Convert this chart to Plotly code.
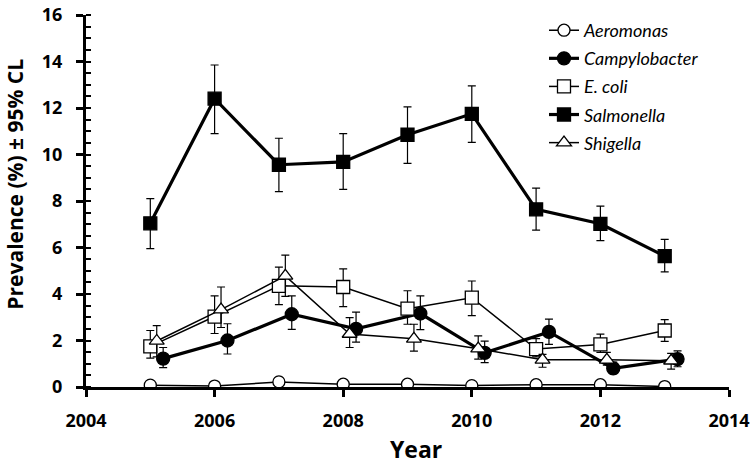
import plotly.graph_objects as go

years = [2005, 2006, 2007, 2008, 2009, 2010, 2011, 2012, 2013]

aeromonas = [0.08, 0.04, 0.22, 0.12, 0.12, 0.06, 0.10, 0.10, 0.02]
aeromonas_hi = [0.14, 0.09, 0.42, 0.20, 0.18, 0.10, 0.16, 0.17, 0.05]
aeromonas_lo = [0.03, 0.00, 0.08, 0.05, 0.06, 0.02, 0.05, 0.04, 0.00]

campylobacter = [1.22, 2.00, 3.13, 2.50, 3.16, 1.47, 2.37, 0.80, 1.20]
campylobacter_hi = [1.70, 2.72, 3.92, 3.22, 3.92, 1.97, 2.92, 1.07, 1.55]
campylobacter_lo = [0.83, 1.42, 2.48, 1.93, 2.47, 1.05, 1.83, 0.57, 0.87]

ecoli = [1.75, 3.03, 4.35, 4.30, 3.37, 3.84, 1.63, 1.83, 2.43]
ecoli_hi = [2.43, 3.92, 5.16, 5.08, 4.14, 4.56, 2.08, 2.27, 2.90]
ecoli_lo = [1.24, 2.30, 3.54, 3.46, 2.70, 3.07, 1.30, 1.49, 1.96]

salmonella = [7.04, 12.40, 9.56, 9.68, 10.85, 11.75, 7.64, 7.02, 5.63]
salmonella_hi = [8.10, 13.85, 10.70, 10.90, 12.05, 12.95, 8.55, 7.78, 6.35]
salmonella_lo = [5.95, 10.90, 8.40, 8.50, 9.62, 10.52, 6.75, 6.30, 4.95]

shigella = [1.98, 3.33, 4.78, 2.28, 2.07, 1.65, 1.17, 1.17, 1.13]
shigella_hi = [2.64, 4.30, 5.67, 2.98, 2.70, 2.20, 1.40, 1.49, 1.45]
shigella_lo = [1.30, 2.56, 3.90, 1.70, 1.54, 1.20, 0.85, 0.94, 0.77]

x_title = "Year"
y_title = "Prevalence (%) ± 95% CL"

series = [
    ("Aeromonas", 0.0, aeromonas, aeromonas_hi, aeromonas_lo, "circle", "white", 1.5, 12),
    ("Campylobacter", 0.2, campylobacter, campylobacter_hi, campylobacter_lo, "circle", "black", 3.2, 13),
    ("E. coli", 0.0, ecoli, ecoli_hi, ecoli_lo, "square", "white", 1.5, 13),
    ("Salmonella", 0.0, salmonella, salmonella_hi, salmonella_lo, "square", "black", 3.2, 13),
    ("Shigella", 0.1, shigella, shigella_hi, shigella_lo, "triangle-up", "white", 1.5, 13),
]

fig = go.Figure()
for name, off, vals, hi, lo, sym, fill, lw, ms in series:
    xs = [y + off for y in years]
    fig.add_trace(go.Scatter(
        x=xs, y=vals, name=name, legendgroup=name, mode="lines+markers",
        line=dict(color="black", width=lw),
        marker=dict(symbol=sym, size=ms, color=fill, line=dict(color="black", width=1.3)),
        error_y=dict(type="data", symmetric=False,
                     array=[h - v for h, v in zip(hi, vals)],
                     arrayminus=[v - l for v, l in zip(vals, lo)],
                     color="black", thickness=1.2, width=4),
    ))

W, H = 753, 465
L, R, T, B = 86, 24, 12, 78
pw, ph = W - L - R, H - T - B

ff = "Open Sans"
fig.update_layout(
    width=W, height=H,
    margin=dict(l=L, r=R, t=T, b=B),
    plot_bgcolor="white", paper_bgcolor="white",
    font=dict(family=ff, color="black"),
    showlegend=True,
    legend=dict(x=(580 - 36 - L) / pw, y=(H - B - 9) / ph, xanchor="left", yanchor="top",
                font=dict(size=18, style="italic", family="Lato"),
                bgcolor="rgba(0,0,0,0)", tracegroupgap=1.7, itemwidth=30),
    xaxis=dict(range=[2004, 2014], tick0=2004, dtick=2, showgrid=False, zeroline=False,
               showline=True, linecolor="black", linewidth=3, automargin=False,
               ticks="outside", ticklen=7, tickwidth=2.5, tickcolor="black",
               ticklabeloverflow="allow", ticklabelstandoff=8,
               tickfont=dict(size=18, family=ff, weight="bold")),
    yaxis=dict(range=[0, 16], tick0=0, dtick=2, showgrid=False, zeroline=False,
               showline=True, linecolor="black", linewidth=3, automargin=False,
               ticks="outside", ticklen=7, tickwidth=2.5, tickcolor="black",
               ticklabeloverflow="allow", ticklabelstandoff=10,
               minor=dict(dtick=0.5, ticks="inside", ticklen=5, tickwidth=2, tickcolor="black"),
               tickfont=dict(size=18, family=ff, weight="bold")),
    annotations=[
        dict(text=x_title, xref="paper", yref="paper", showarrow=False,
             x=(416.5 - L) / pw, y=(H - B - 449) / ph, xanchor="center", yanchor="middle",
             font=dict(size=23, weight="bold", family=ff)),
        dict(text=y_title, xref="paper", yref="paper", showarrow=False, textangle=-90,
             x=(15 - L) / pw, y=(H - B - 183) / ph, xanchor="center", yanchor="middle",
             font=dict(size=21, weight="bold", family=ff)),
    ],
)

fig.write_html("out.html", config={"displayModeBar": False},
               post_script="document.body.style.margin='0';")
